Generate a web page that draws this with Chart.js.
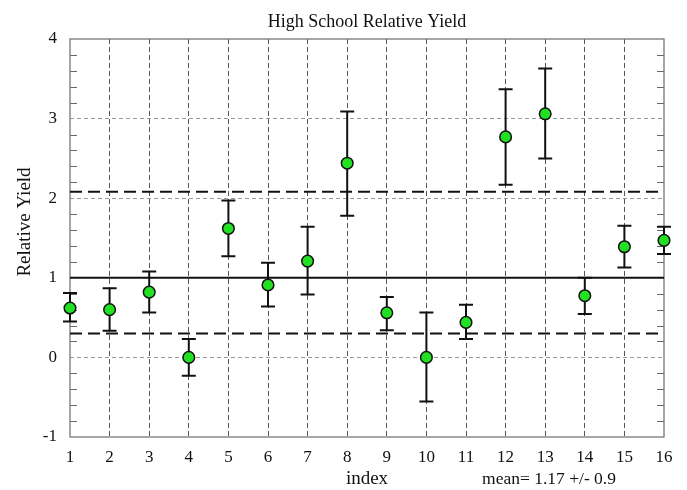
<!DOCTYPE html>
<html><head><meta charset="utf-8">
<script src="https://cdn.jsdelivr.net/npm/chart.js@4/dist/chart.umd.min.js"></script>
<style>html,body{margin:0;padding:0;background:#fff;}</style>
</head><body>
<canvas id="c" width="687" height="490" style="display:block;width:687px;height:490px"></canvas>
<script>
const chartTitle = "High School Relative Yield";
const xTitle = "index";
const yTitle = "Relative Yield";
const meanText = "mean= 1.17 +/- 0.9";
const indices = [1,2,3,4,5,6,7,8,9,10,11,12,13,14,15,16];
const yields  = [0.62,0.60,0.82,0.00,1.62,0.91,1.21,2.44,0.56,0.00,0.44,2.77,3.06,0.775,1.39,1.47];
const errHigh = [0.81,0.87,1.08,0.23,1.97,1.19,1.64,3.09,0.76,0.565,0.66,3.37,3.63,1.00,1.655,1.64];
const errLow  = [0.45,0.335,0.565,-0.23,1.27,0.64,0.79,1.78,0.34,-0.555,0.23,2.17,2.50,0.545,1.13,1.30];
const refSolid = 1.0;
const refUpper = 2.08;
const refLower = 0.30;
const xRange = [1,16];
const yRange = [-1,4];
const minorStep = 0.2;

const SERIF = "'Liberation Serif','DejaVu Serif',serif";

const points = indices.map((x,i)=>({x:x,y:yields[i]}));
const refLine = v => [{x:xRange[0],y:v},{x:xRange[1],y:v}];

const decor = {
  id:'decor',
  beforeDatasetsDraw(chart){
    const {ctx, chartArea:a, scales:{y}} = chart;
    ctx.save();
    // minor ticks
    ctx.strokeStyle = '#666'; ctx.lineWidth = 1;
    ctx.beginPath();
    for (let k = Math.round(yRange[0]/minorStep); k <= Math.round(yRange[1]/minorStep); k++) {
      const v = k*minorStep;
      if (Math.abs(v-Math.round(v))<1e-6) continue;
      const py = Math.round(y.getPixelForValue(v))+0.5;
      ctx.moveTo(a.left, py); ctx.lineTo(a.left+7, py);
      ctx.moveTo(a.right, py); ctx.lineTo(a.right-7, py);
    }
    ctx.stroke();
    // frame
    ctx.strokeStyle = '#777'; ctx.lineWidth = 1.3;
    ctx.strokeRect(a.left, a.top, a.right-a.left, a.bottom-a.top);
    ctx.restore();
  },
  beforeDatasetDraw(chart, args){
    if (args.index !== 0) return;
    const {ctx, scales:{x,y}} = chart;
    ctx.save();
    ctx.strokeStyle = '#111'; ctx.lineWidth = 2;
    ctx.beginPath();
    indices.forEach((xv,i)=>{
      const px = x.getPixelForValue(xv);
      const pt = y.getPixelForValue(errHigh[i]);
      const pb = y.getPixelForValue(errLow[i]);
      ctx.moveTo(px, pt); ctx.lineTo(px, pb);
      ctx.moveTo(px-7, pt); ctx.lineTo(px+7, pt);
      ctx.moveTo(px-7, pb); ctx.lineTo(px+7, pb);
    });
    ctx.stroke();
    ctx.restore();
  },
  afterDraw(chart){
    const {ctx, chartArea:a} = chart;
    ctx.save();
    ctx.fillStyle = '#111';
    ctx.textAlign = 'center'; ctx.textBaseline = 'middle';
    ctx.font = "18px " + SERIF;
    ctx.fillText(chartTitle, (a.left+a.right)/2, 22);
    ctx.font = "17.5px " + SERIF;
    ctx.fillText(meanText, 549, 479);
    ctx.translate(25, 222);
    ctx.rotate(-Math.PI/2);
    ctx.font = "19px " + SERIF;
    ctx.fillText(yTitle, 0, 0);
    ctx.restore();
  }
};

const isEdge = (ctx, r) => ctx.tick && (Math.abs(ctx.tick.value-r[0])<1e-9 || Math.abs(ctx.tick.value-r[1])<1e-9);

new Chart(document.getElementById('c'), {
  type:'scatter',
  data:{ datasets:[
    { label:'yield', data:points, order:0, clip:false,
      backgroundColor:'#22e022', borderColor:'#111', borderWidth:1.5,
      pointRadius:5.8, pointHoverRadius:5.8, showLine:false },
    { type:'line', label:'ref', data:refLine(refSolid), order:1,
      borderColor:'#111', borderWidth:2, pointRadius:0, fill:false },
    { type:'line', label:'upper', data:refLine(refUpper), order:1,
      borderColor:'#111', borderWidth:2, borderDash:[12,6], pointRadius:0, fill:false },
    { type:'line', label:'lower', data:refLine(refLower), order:1,
      borderColor:'#111', borderWidth:2, borderDash:[12,6], pointRadius:0, fill:false }
  ]},
  options:{
    responsive:false, animation:false, devicePixelRatio:1,
    layout:{padding:{left:0,right:23,top:39,bottom:0}},
    plugins:{legend:{display:false}, tooltip:{enabled:false}, title:{display:false}},
    scales:{
      x:{ type:'linear', min:xRange[0], max:xRange[1],
        afterFit(s){ s.height = 53; },
        ticks:{ stepSize:1, padding:10, color:'#111', font:{family:SERIF, size:17} },
        grid:{ drawTicks:false, lineWidth:1,
          color:(c)=> isEdge(c,xRange) ? 'rgba(0,0,0,0)' : '#555' },
        border:{ display:false, dash:[5,3] },
        title:{ display:true, text:xTitle, color:'#111', font:{family:SERIF, size:19}, padding:{top:0,bottom:0} }
      },
      y:{ type:'linear', min:yRange[0], max:yRange[1],
        afterFit(s){ s.width = 70; },
        ticks:{ stepSize:1, padding:13, color:'#111', font:{family:SERIF, size:17} },
        grid:{ drawTicks:false, lineWidth:1,
          color:(c)=> isEdge(c,yRange) ? 'rgba(0,0,0,0)' : '#999' },
        border:{ display:false, dash:[4,3] }
      }
    }
  },
  plugins:[decor]
});
</script>
</body></html>
